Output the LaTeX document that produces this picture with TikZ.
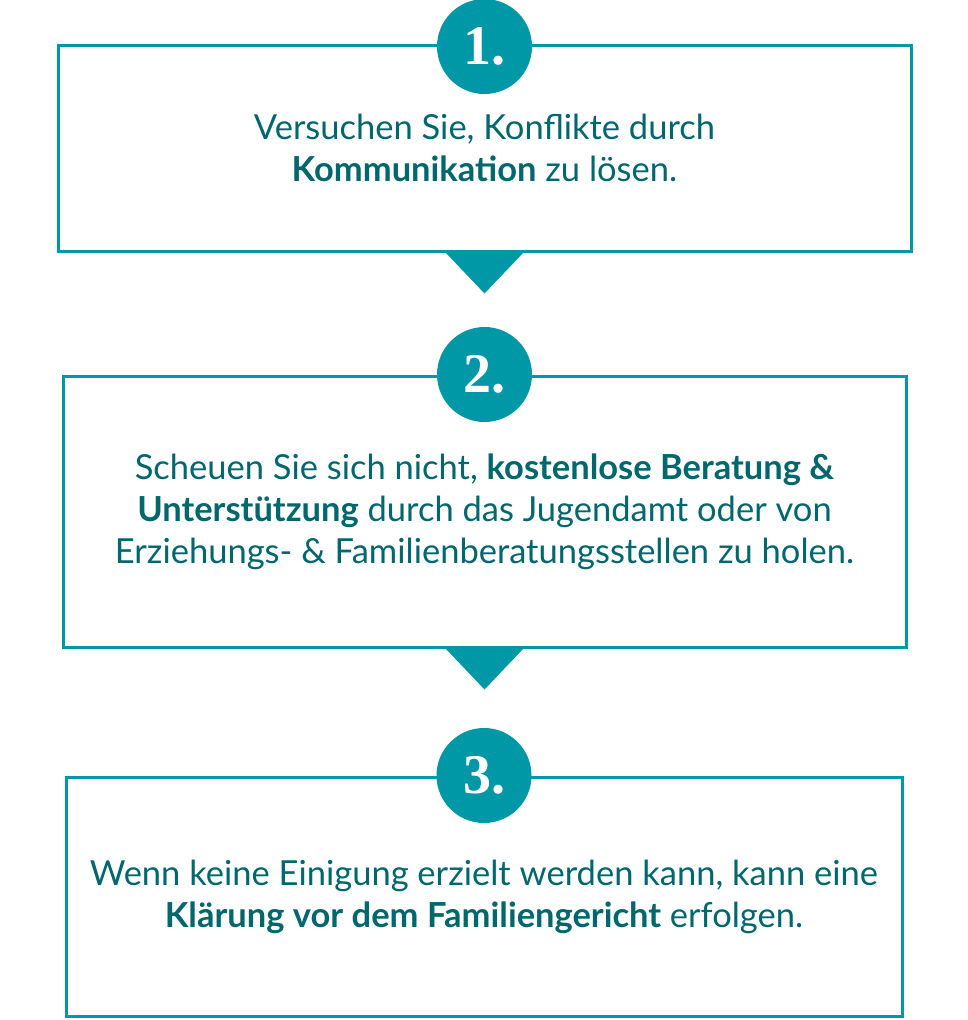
\documentclass[tikz,border=0pt]{standalone}
\usepackage{fontspec}
\usepackage{xcolor}
\usepackage{tikz}
\usetikzlibrary{positioning, shapes}
\setmainfont{Lato}
\newfontfamily\numfont{Liberation Serif}
\definecolor{frameteal}{RGB}{0,152,166}
\definecolor{textteal}{RGB}{0,103,109}
\tikzset{
      step box/.style={
		draw=frameteal,
		line width=3pt,
		fill=white,
		minimum width={#1},
		text=textteal,
		align=center,
		font=\fontsize{34.5}{42}\selectfont,
	  },
  		step number/.style={
    	circle,
		fill=frameteal,
		minimum size=95pt,
		inner sep=0pt,
		text=white,
		font=\numfont\bfseries\fontsize{56}{56}\selectfont,
      },
  		step arrow/.style={
		fill=frameteal,
      }
  	}

\begin{document}
\begin{tikzpicture}[x=1pt, y=-1pt]
    \useasboundingbox (0,0) rectangle (968,1020);
    \node [step box=853pt, minimum height=206pt] (box1) at (484.5,148) {Versuchen Sie, Konflikte durch\\\textbf{Kommunikation} zu lösen.};
    \node [step box=843pt, minimum height=271pt] (box2) at (484.5,511.5) {Scheuen Sie sich nicht, \textbf{kostenlose Beratung \&}\\\textbf{Unterstützung} durch das Jugendamt oder von\\Erziehungs- \& Familienberatungsstellen zu holen.};
    \node [step box=836pt, minimum height=239pt] (box3) at (484,896.5) {Wenn keine Einigung erzielt werden kann, kann eine\\\textbf{Klärung vor dem Familiengericht} erfolgen.};
    % numbers on the top edges
    \node [step number, yshift=-3pt] (num1) at (box1.north) {1.};
    \node [step number] (num2) at (box2.north) {2.};
    \node [step number] (num3) at (box3.north) {3.};
    % arrows between the boxes
    \fill [step arrow] ([xshift=-39pt]box1.south) -- ([xshift=39pt]box1.south) -- ([yshift=-41pt]box1.south) -- cycle;
    \fill [step arrow] ([xshift=-39pt]box2.south) -- ([xshift=39pt]box2.south) -- ([yshift=-41pt]box2.south) -- cycle;
  \end{tikzpicture}
\end{document}
